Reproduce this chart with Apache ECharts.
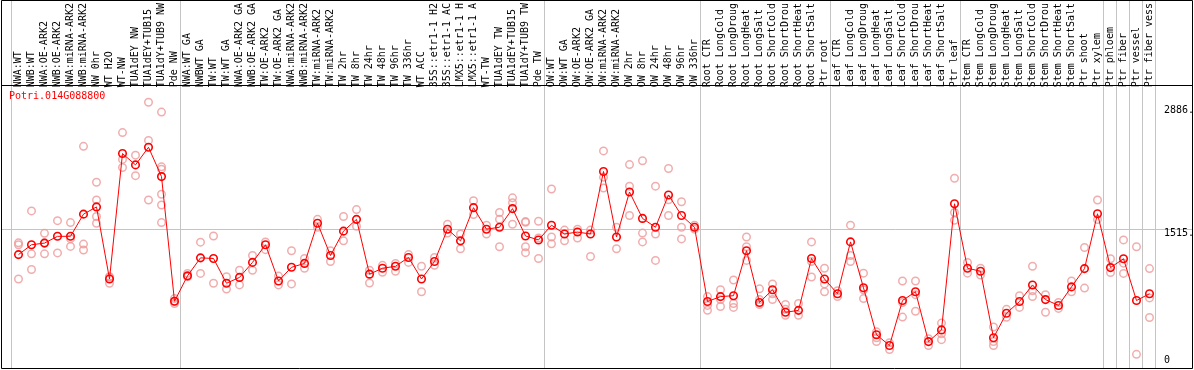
<!DOCTYPE html>
<html><head><meta charset="utf-8">
<script src="https://cdn.jsdelivr.net/npm/echarts@6/dist/echarts.min.js"></script>
<style>html,body{margin:0;padding:0;background:#fff}#c{width:1194px;height:370px}</style>
</head><body><div id="c"></div>
<script>
const geneId = 'Potri.014G088800';
const categories = [
 'NWA:WT','NWB:WT','NWA:OE-ARK2','NWB:OE-ARK2','NWA:miRNA-ARK2','NWB:miRNA-ARK2','NW 0hr','WT H2O','WT-NW','TUA1dEY NW','TUA1dEY+TUB15','TUA1dY+TUB9 NW','Pde NW',
 'NWA:WT GA','NWBWT GA','TW:WT','TW:WT GA','NWA:OE-ARK2 GA','NWB:OE-ARK2 GA','TW:OE-ARK2','TW:OE-ARK2 GA','NWA:miRNA-ARK2','NWB:miRNA-ARK2','TW:miRNA-ARK2','TW:miRNA-ARK2','TW 2hr','TW 8hr','TW 24hr','TW 48hr','TW 96hr','TW 336hr','WT ACC','35S::etr1-1 H2','35S::etr1-1 AC','LMX5::etr1-1 H','LMX5::etr1-1 A','WT-TW','TUA1dEY TW','TUA1dEY+TUB15','TUA1dY+TUB9 TW','Pde TW',
 'OW:WT','OW:WT GA','OW:OE-ARK2','OW:OE-ARK2 GA','OW:miRNA-ARK2','OW:miRNA-ARK2','OW 2hr','OW 8hr','OW 24hr','OW 48hr','OW 96hr','OW 336hr',
 'Root CTR','Root LongCold','Root LongDroug','Root LongHeat','Root LongSalt','Root ShortCold','Root ShortDrou','Root ShortHeat','Root ShortSalt','Ptr root',
 'Leaf CTR','Leaf LongCold','Leaf LongDroug','Leaf LongHeat','Leaf LongSalt','Leaf ShortCold','Leaf ShortDrou','Leaf ShortHeat','Leaf ShortSalt','Ptr leaf',
 'Stem CTR','Stem LongCold','Stem LongDroug','Stem LongHeat','Stem LongSalt','Stem ShortCold','Stem ShortDrou','Stem ShortHeat','Stem ShortSalt','Ptr shoot','Ptr xylem',
 'Ptr phloem','Ptr fiber','Ptr vessel','Ptr fiber vess'
];
const means = [
 1244,1350,1368,1441,1441,1680,1758,981,2333,2211,2401,2085,741,
 1015,1209,1202,935,998,1160,1350,960,1107,1149,1582,1234,1497,1624,1033,1097,1118,1213,981,1170,1518,1392,1750,1518,1539,1740,1445,1402,
 1561,1466,1487,1466,2140,1434,1919,1634,1539,1887,1666,1539,
 738,791,801,1286,728,865,622,643,1202,981,
 822,1381,886,380,264,749,844,306,432,1792,
 1097,1065,348,612,738,917,759,696,896,1093,1684,
 1104,1199,749,822
];
const replicates = [
 [1371,1350,981],[1252,1083,1715],[1473,1252,1371],[1610,1262],[1589,1416,1332],[1357,1294,2411],[2024,1832,1655,1582],[1005,935,1000],[2559,2270,2183],[2316,2095],[2886,2475,1832],[2780,2190,2165,1895,1779,1589],[770,717,741],
 [1041,1005],[1378,1041],[1445,935],[1005,872],[1075,917],[1234,1075],[1381,1297],[1012,917],[1286,928],[1202,1097],[1624,1539],[1286,1170],[1655,1392],[1729,1550],[1075,938],[1128,1054],[1149,1065],[1244,1160],[1118,844],[1213,1128],[1571,1476],[1466,1307],[1824,1676],[1561,1466],[1698,1624,1329],[1856,1803,1571],[1592,1329,1265,1600],[1603,1423,1202],
 [1951,1434,1360],[1508,1392],[1518,1423],[1508,1223],[2362,2077,1961],[1539,1307],[2214,1982,1666],[2256,1476,1381],[1982,1466,1181],[2172,1835,1666],[1814,1539,1413],[1561,1518],
 [791,696,643],[865,759,685],[970,717,675],[1434,1329,1181],[875,759,706],[928,822,759],[706,654,590],[717,590],[1381,1170,1002],[1097,928,844],
 [854,791],[1561,1234,1170],[1044,865,770],[411,348,306],[295,221],[960,728,570],[960,812,633],[337,264],[506,390,327],[2067,1698,1613],
 [1160,1044],[1097,1023],[464,306,264],[654,569],[801,675],[1118,854,791],[812,622],[728,664],[960,844],[1321,883],[1832,1621],
 [1199,1051],[1402,1152,1041],[1329,169],[1093,777,566]
];
const groupStarts = [0,13,41,53,63,73,84,85,86,87,88];
const yTickValues = [2886,1515,0];
const yTickLabels = ['2886.','1515.','0'];
const midLineValue = 1515;

const FONT = 'DejaVu Sans Mono';
const repPoints = [];
replicates.forEach((reps, i) => reps.forEach(v => repPoints.push([i, v])));

const chart = echarts.init(document.getElementById('c'), null, {renderer: 'canvas'});
chart.setOption({
  animation: false,
  backgroundColor: '#ffffff',
  title: {
    text: geneId, left: 9, top: 91, padding: 0,
    textStyle: {color: '#ff0000', fontFamily: FONT, fontSize: 10, fontWeight: 'normal'}
  },
  grid: {left: 12, right: 38, top: 85, bottom: -2, containLabel: false},
  xAxis: {
    type: 'category', position: 'top', data: categories, boundaryGap: true,
    axisLine: {show: false}, axisTick: {show: false}, splitLine: {show: false},
    axisLabel: {interval: 0, rotate: 90, margin: 2, fontFamily: FONT, fontSize: 10, color: '#000', hideOverlap: false}
  },
  yAxis: {
    type: 'value', min: 0, max: 3026,
    axisLine: {show: false}, axisTick: {show: false}, splitLine: {show: false}, axisLabel: {show: false}
  },
  series: [
    {
      type: 'scatter', data: repPoints, symbol: 'circle', symbolSize: 7.5, z: 3,
      itemStyle: {color: 'rgba(0,0,0,0)', borderColor: '#ee9999', borderWidth: 1.5}
    },
    {
      type: 'line', data: means, symbol: 'circle', symbolSize: 7.5, showSymbol: true, z: 4,
      lineStyle: {color: '#ff0000', width: 1},
      itemStyle: {color: 'rgba(0,0,0,0)', borderColor: '#ff0000', borderWidth: 1.6}
    }
  ]
});

// frame, separators and right-hand labels placed through the axis scales
const cx = i => chart.convertToPixel({xAxisIndex: 0}, i);
const cy = v => chart.convertToPixel({yAxisIndex: 0}, v);
const band = cx(1) - cx(0);
const gfx = [];
groupStarts.forEach(k => {
  const x = Math.floor(cx(0) + band * k - band / 2) - 0.5;
  gfx.push({type: 'line', z: 1, shape: {x1: x, y1: 0, x2: x, y2: 369}, style: {stroke: '#c4c4c4', lineWidth: 1}});
});
const ym = Math.round(cy(midLineValue)) + 0.5;
gfx.push({type: 'line', z: 1, shape: {x1: 2, y1: ym, x2: 1193, y2: ym}, style: {stroke: '#c4c4c4', lineWidth: 1}});
// black frame and header rule
gfx.push({type: 'rect', z: 10, shape: {x: 1.5, y: 0.5, width: 1191, height: 368}, style: {fill: null, stroke: '#000', lineWidth: 1}});
gfx.push({type: 'line', z: 10, shape: {x1: 1, y1: 85.5, x2: 1193, y2: 85.5}, style: {stroke: '#000', lineWidth: 1}});
yTickValues.forEach((v, j) => {
  const py = cy(v);
  let top;
  if (v === 0) top = py - 15;
  else if (j === 0) top = py + 3;
  else top = py - 1;
  gfx.push({type: 'text', z: 11, x: 1164, y: top,
    style: {text: yTickLabels[j], fill: '#000', font: '10px "' + FONT + '"', textAlign: 'left', textVerticalAlign: 'top'}});
});
chart.setOption({graphic: {elements: gfx}});
</script>
</body></html>
